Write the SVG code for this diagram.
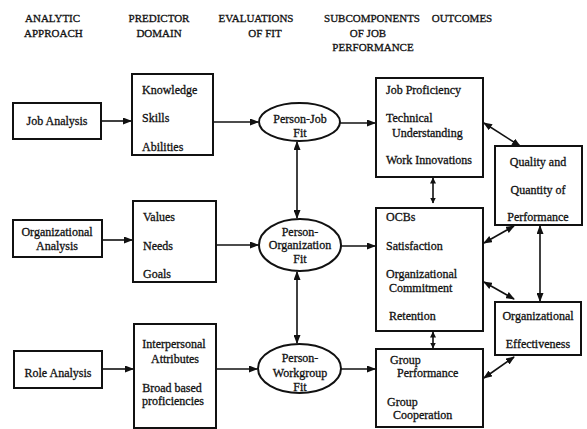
<svg xmlns="http://www.w3.org/2000/svg" width="587" height="429" viewBox="0 0 587 429">
<defs>
<style>
text{font-family:"Liberation Serif","Times New Roman",serif;fill:#111;stroke:#111;stroke-width:0.3;}
.h{font-size:11px;}
.t{font-size:12px;}
.m{text-anchor:middle;}
.box{fill:#fff;stroke:#111;stroke-width:2;}
.ell{fill:#fff;stroke:#111;stroke-width:2;}
.c{fill:none;stroke:#111;stroke-width:1.6;marker-end:url(#ah);}
.d{marker-start:url(#ah);}
.s{marker-end:url(#sh);marker-start:url(#sh);}
</style>
<marker id="ah" markerUnits="userSpaceOnUse" markerWidth="9" markerHeight="7" refX="8" refY="3.5" orient="auto-start-reverse">
<path d="M0,0 L9,3.5 L0,7 z" fill="#111"/>
</marker>
<marker id="sh" markerUnits="userSpaceOnUse" markerWidth="6" markerHeight="6" refX="5.5" refY="3" orient="auto-start-reverse">
<path d="M0,0 L6,3 L0,6 z" fill="#111"/>
</marker>
</defs>
<rect width="587" height="429" fill="#fff"/>
<g id="headers">
<text class="h" x="25" y="22">ANALYTIC</text>
<text class="h" x="24" y="37">APPROACH</text>
<text class="h m" x="159" y="22">PREDICTOR</text>
<text class="h m" x="159" y="37">DOMAIN</text>
<text class="h m" x="256" y="22">EVALUATIONS</text>
<text class="h m" x="265" y="37">OF FIT</text>
<text class="h m" x="372" y="22">SUBCOMPONENTS</text>
<text class="h m" x="368" y="37">OF JOB</text>
<text class="h m" x="373" y="51">PERFORMANCE</text>
<text class="h m" x="462" y="22">OUTCOMES</text>
</g>
<g id="connectors">
<line class="c" x1="101" y1="121" x2="131" y2="121"/>
<line class="c" x1="213" y1="122" x2="258" y2="122"/>
<line class="c" x1="340" y1="123" x2="375" y2="123"/>
<line class="c" x1="102" y1="240" x2="132" y2="240"/>
<line class="c" x1="216" y1="245" x2="258" y2="245"/>
<line class="c" x1="341" y1="246" x2="375" y2="246"/>
<line class="c" x1="102" y1="369" x2="133" y2="369"/>
<line class="c" x1="216" y1="369" x2="257" y2="369"/>
<line class="c" x1="341" y1="369" x2="375" y2="369"/>
<line class="c d" x1="297" y1="142" x2="297" y2="218"/>
<line class="c d" x1="297" y1="272" x2="297" y2="343"/>
<line class="c s" x1="433" y1="178" x2="433" y2="203"/>
<line class="c s" x1="433" y1="332" x2="433" y2="348"/>
<line class="c d" x1="540" y1="226" x2="540" y2="301"/>
<line class="c d" x1="484" y1="123" x2="520" y2="146"/>
<line class="c d" x1="484" y1="243" x2="514" y2="226"/>
<line class="c d" x1="484" y1="282" x2="514" y2="299"/>
<line class="c d" x1="484" y1="378" x2="514" y2="357"/>
</g>
<g id="job-analysis">
<rect class="box" x="13" y="103" width="88" height="36"/>
<text class="t m" x="57" y="125">Job Analysis</text>
</g>
<g id="org-analysis">
<rect class="box" x="13" y="220" width="89" height="37"/>
<text class="t m" x="57" y="236">Organizational</text>
<text class="t m" x="57" y="250">Analysis</text>
</g>
<g id="role-analysis">
<rect class="box" x="14" y="351" width="88" height="37"/>
<text class="t m" x="58" y="377">Role Analysis</text>
</g>
<g id="ksa">
<rect class="box" x="132" y="74" width="81" height="81"/>
<text class="t" x="142" y="94">Knowledge</text>
<text class="t" x="142" y="122">Skills</text>
<text class="t" x="142" y="151">Abilities</text>
</g>
<g id="values">
<rect class="box" x="133" y="201" width="83" height="81"/>
<text class="t" x="143" y="221">Values</text>
<text class="t" x="143" y="250">Needs</text>
<text class="t" x="143" y="278">Goals</text>
</g>
<g id="interpersonal">
<rect class="box" x="134" y="324" width="82" height="104"/>
<text class="t m" x="174" y="348">Interpersonal</text>
<text class="t m" x="175" y="363">Attributes</text>
<text class="t m" x="172" y="392">Broad based</text>
<text class="t m" x="173" y="405">proficiencies</text>
</g>
<g id="person-job">
<ellipse class="ell" cx="299.5" cy="122" rx="40.5" ry="19"/>
<text class="t m" x="300" y="123">Person-Job</text>
<text class="t m" x="300" y="137">Fit</text>
</g>
<g id="person-org">
<ellipse class="ell" cx="300" cy="245" rx="41" ry="26"/>
<text class="t m" x="300" y="236">Person-</text>
<text class="t m" x="300" y="249">Organization</text>
<text class="t m" x="300" y="263">Fit</text>
</g>
<g id="person-workgroup">
<ellipse class="ell" cx="299.5" cy="368.5" rx="41.5" ry="24.5"/>
<text class="t m" x="300" y="362">Person-</text>
<text class="t m" x="300" y="377">Workgroup</text>
<text class="t m" x="300" y="391">Fit</text>
</g>
<g id="job-proficiency">
<rect class="box" x="376" y="78" width="107" height="99"/>
<text class="t" x="386" y="94">Job Proficiency</text>
<text class="t" x="386" y="122">Technical</text>
<text class="t" x="392" y="137">Understanding</text>
<text class="t" x="386" y="164">Work Innovations</text>
</g>
<g id="ocbs">
<rect class="box" x="376" y="208" width="107" height="123"/>
<text class="t" x="386" y="221">OCBs</text>
<text class="t" x="386" y="250">Satisfaction</text>
<text class="t" x="386" y="278">Organizational</text>
<text class="t" x="389" y="292">Commitment</text>
<text class="t" x="389" y="320">Retention</text>
</g>
<g id="group">
<rect class="box" x="376" y="349" width="107" height="78"/>
<text class="t" x="390" y="364">Group</text>
<text class="t" x="397" y="377">Performance</text>
<text class="t" x="387" y="406">Group</text>
<text class="t" x="393" y="419">Cooperation</text>
</g>
<g id="quality">
<rect class="box" x="495" y="146" width="87" height="79"/>
<text class="t m" x="538" y="166">Quality and</text>
<text class="t m" x="538" y="194">Quantity of</text>
<text class="t m" x="538" y="221">Performance</text>
</g>
<g id="org-effectiveness">
<rect class="box" x="495" y="302" width="86" height="53"/>
<text class="t m" x="538" y="320">Organizational</text>
<text class="t m" x="538" y="348">Effectiveness</text>
</g>
</svg>
